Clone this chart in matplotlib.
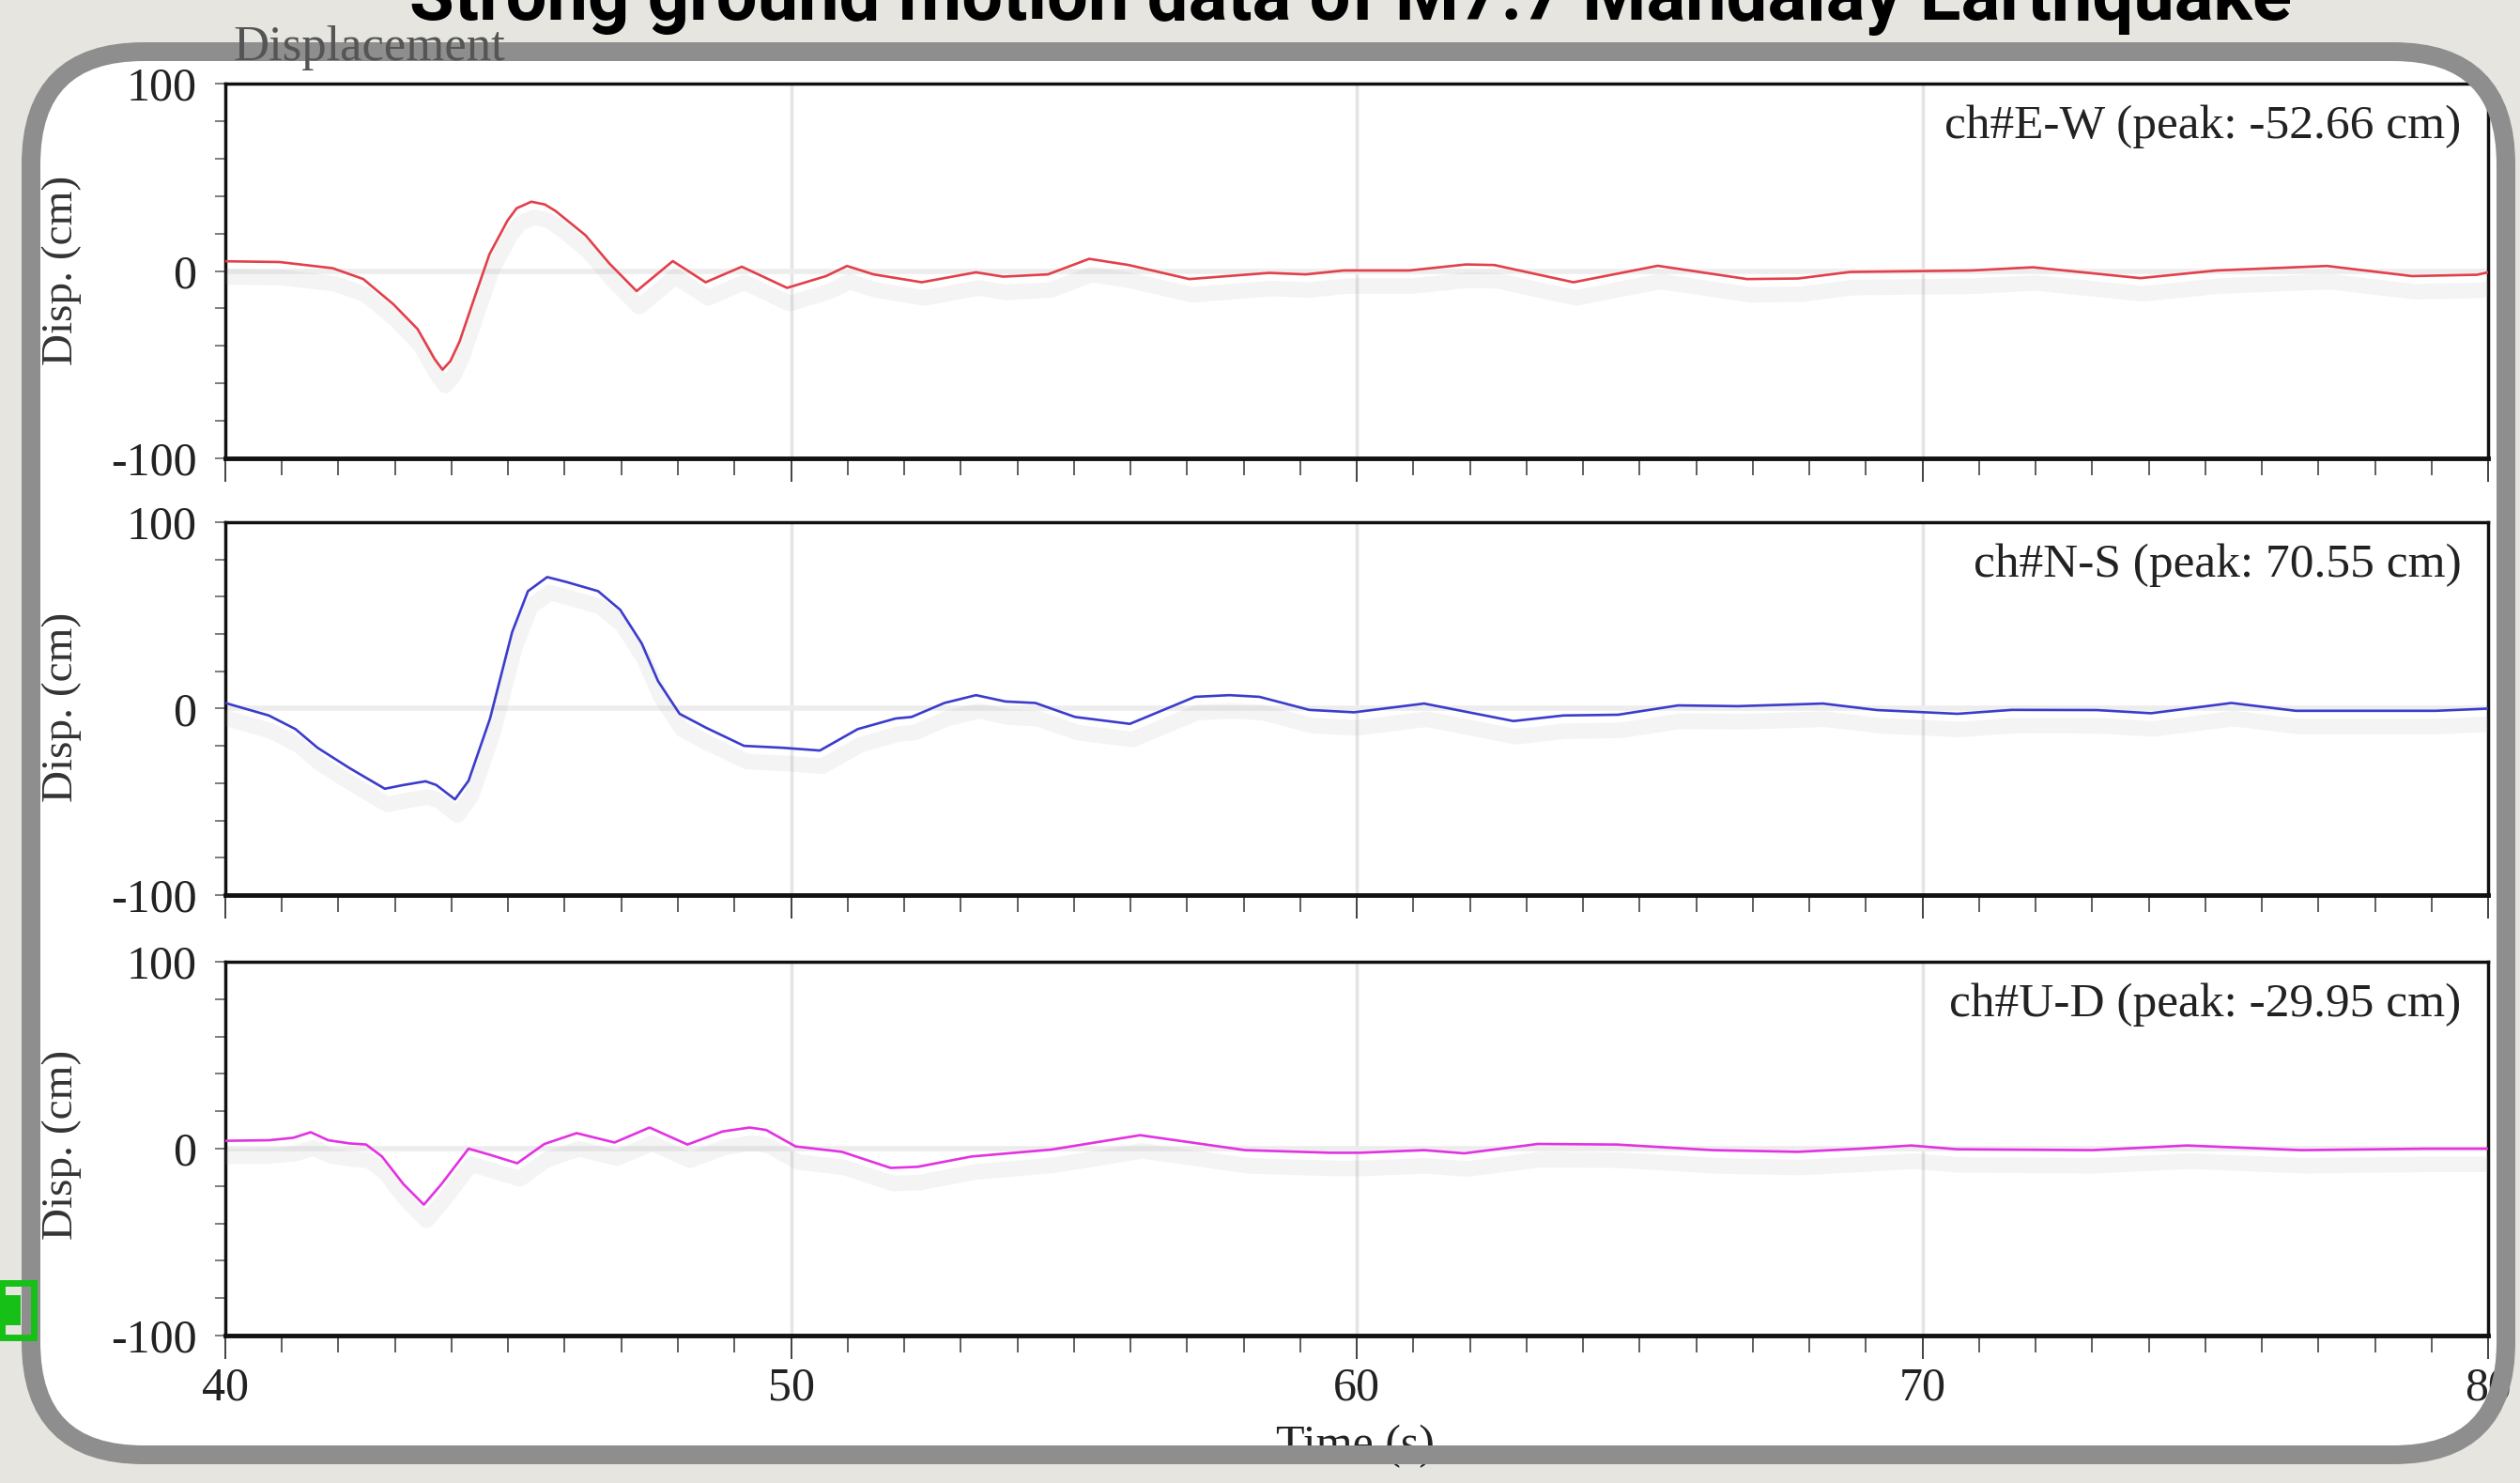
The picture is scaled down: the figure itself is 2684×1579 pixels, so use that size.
import numpy as np
import matplotlib
matplotlib.use("Agg")
import matplotlib.pyplot as plt
from matplotlib.patches import FancyBboxPatch, Rectangle
from matplotlib.transforms import IdentityTransform
import matplotlib.patheffects as pe

plt.rcParams['font.family'] = ['Liberation Serif', 'DejaVu Serif']

# ---------------- data ----------------
t_ew = [40.0, 40.96, 41.9, 42.44, 42.97, 43.4, 43.7, 43.84, 43.98, 44.14, 44.46, 44.67,
        44.99, 45.15, 45.41, 45.65, 45.84, 46.37, 46.79, 47.27, 47.91, 48.49, 49.13,
        49.93, 50.62, 50.99, 51.46, 52.31, 53.27, 53.75, 54.54, 55.27, 55.97, 57.04,
        58.45, 59.1, 59.77, 60.93, 61.93, 62.43, 63.83, 65.32, 66.9, 67.8, 68.72,
        70.87, 71.95, 73.85, 75.2, 77.15, 78.65, 79.8, 80.0]
v_ew = [5.2, 4.8, 1.5, -4.3, -17.7, -31.0, -47.0, -52.66, -48.0, -37.7, -9.3, 9.0,
        27.0, 33.5, 37.0, 35.5, 32.0, 19.0, 4.0, -10.7, 5.3, -6.0, 2.3,
        -9.0, -2.7, 2.7, -1.8, -6.0, -0.7, -3.0, -1.8, 6.5, 3.2, -4.3,
        -1.0, -1.8, 0.3, 0.3, 3.5, 3.2, -6.0, 2.8, -4.3, -4.0, -0.5,
        0.3, 2.0, -3.8, 0.3, 2.7, -2.7, -2.0, -0.7]

t_ns = [40.0, 40.77, 41.24, 41.63, 42.2, 42.82, 43.15, 43.54, 43.73, 44.06, 44.3,
        44.68, 45.07, 45.35, 45.69, 46.02, 46.59, 46.98, 47.36, 47.65, 48.03, 48.5,
        49.17, 49.84, 50.51, 51.18, 51.85, 52.13, 52.71, 53.27, 53.79, 54.32, 55.02,
        55.99, 57.14, 57.75, 58.28, 59.16, 59.95, 61.19, 62.77, 63.65, 64.62, 65.68,
        66.74, 68.24, 69.2, 70.62, 71.58, 73.08, 74.04, 75.46, 76.6, 79.07, 80.0]
v_ns = [3.0, -3.7, -11.0, -21.0, -32.0, -43.0, -41.0, -39.0, -41.0, -48.7, -38.7,
        -5.3, 41.0, 63.0, 70.55, 68.0, 63.0, 53.0, 35.0, 14.7, -2.8, -10.3,
        -20.0, -21.0, -22.5, -11.0, -5.3, -4.5, 3.0, 7.2, 3.8, 3.0, -4.5,
        -8.2, 6.3, 7.2, 6.3, -0.7, -2.0, 2.7, -6.7, -3.7, -3.3, 1.7,
        1.3, 2.7, -0.8, -2.8, -0.7, -0.8, -2.5, 3.0, -1.2, -1.2, 0.0]

t_ud = [40.0, 40.77, 41.2, 41.51, 41.82, 42.2, 42.49, 42.77, 43.15, 43.51, 43.82,
        44.3, 44.68, 45.16, 45.64, 46.21, 46.88, 47.5, 48.17, 48.79, 49.27, 49.56,
        50.08, 50.9, 51.76, 52.24, 53.19, 54.6, 56.17, 58.03, 59.54, 60.05, 61.19,
        61.9, 63.2, 64.6, 66.3, 67.8, 68.9, 69.8, 70.6, 73.0, 74.68, 76.7, 78.9, 80.0]
v_ud = [4.2, 4.5, 5.8, 8.8, 4.5, 2.8, 2.2, -4.2, -19.0, -29.95, -19.0,
        0.0, -3.3, -7.8, 2.5, 8.3, 3.3, 11.3, 2.2, 9.2, 11.3, 10.0,
        1.2, -1.7, -10.3, -9.7, -4.2, -0.5, 7.2, -0.8, -2.2, -2.2, -0.8,
        -2.5, 2.5, 2.2, -0.8, -1.7, 0.0, 1.7, -0.3, -0.8, 1.7, -0.8, 0.0, 0.0]

channel_labels = ['ch#E-W (peak: -52.66 cm)', 'ch#N-S (peak: 70.55 cm)', 'ch#U-D (peak: -29.95 cm)']
series_t = [t_ew, t_ns, t_ud]
series_v = [v_ew, v_ns, v_ud]
colors = ['#e2404a', '#3c3ccc', '#e232e2']
x_major = [40, 50, 60, 70, 80]
y_major = [-100, 0, 100]
y_major_labels = ['-100', '0', '100']
title = 'Strong ground motion data of M7.7 Mandalay Earthquake'

# ---------------- figure ----------------
W, H = 2684, 1579
fig = plt.figure(figsize=(W / 100, H / 100), dpi=100)
fig.patch.set_facecolor('#e6e5df')

# screenshot-like rounded frame
box = (33, 30, 2636, 1494)
fill = FancyBboxPatch(box[:2], box[2], box[3], boxstyle='round,pad=0,rounding_size=120',
                      transform=IdentityTransform(), facecolor='white', edgecolor='none', zorder=-5)
fig.add_artist(fill)
edge = FancyBboxPatch(box[:2], box[2], box[3], boxstyle='round,pad=0,rounding_size=120',
                      transform=IdentityTransform(), facecolor='none', edgecolor='#8e8e8e',
                      linewidth=20 * 0.72, zorder=10)
fig.add_artist(edge)

# green QR fragment at lower-left
fig.add_artist(Rectangle((2, 155), 34, 58, transform=IdentityTransform(), facecolor='none',
                         edgecolor='#16c016', linewidth=5, zorder=12))
fig.add_artist(Rectangle((4, 168), 18, 32, transform=IdentityTransform(), facecolor='#16c016',
                         edgecolor='none', zorder=12))

axes_rects = [(0.0894, 0.6909, 0.898, 0.2527),
              (0.0894, 0.3965, 0.898, 0.2514),
              (0.0894, 0.0994, 0.898, 0.2521)]
ylabel_y = [0.8176, 0.523, 0.228]

shadow = [pe.SimpleLineShadow(offset=(2, -12), shadow_color='#999999', alpha=0.10, linewidth=12),
          pe.Normal()]

for i, rect in enumerate(axes_rects):
    ax = fig.add_axes(rect)
    ax.set_facecolor('white')
    ax.set_xlim(40, 80)
    ax.set_ylim(-100, 100)
    for xv in x_major[1:-1]:
        ax.axvline(xv, color='#e4e4e4', lw=2.5, zorder=1)
    ax.axhline(0, color='#ededed', lw=4, zorder=1)
    ax.plot(series_t[i], series_v[i], color=colors[i], lw=1.9, zorder=3, path_effects=shadow)
    ax.set_yticks(y_major)
    ax.set_yticklabels(y_major_labels)
    ax.set_yticks(np.arange(-100, 101, 20), minor=True)
    ax.set_xticks(x_major)
    ax.set_xticks(np.arange(40, 81, 1), minor=True)
    ax.tick_params(axis='y', which='both', direction='out', length=8, width=1.2,
                   color='#666666', pad=14, labelsize=36, labelcolor='#222222')
    ax.tick_params(axis='x', which='major', direction='out', length=18, width=1.3,
                   color='#333333', pad=6, labelsize=36, labelcolor='#222222')
    ax.tick_params(axis='x', which='minor', direction='out', length=13, width=1.2, color='#444444')
    if i < 2:
        ax.tick_params(axis='x', which='both', labelbottom=False)
    ax.spines['bottom'].set_linewidth(3.5)
    for s in ['left', 'top', 'right']:
        ax.spines[s].set_linewidth(2.5)
    for s in ax.spines.values():
        s.set_color('#111111')
    ax.text(0.988, 0.885, channel_labels[i], transform=ax.transAxes, ha='right', va='center',
            fontsize=37, color='#222222', zorder=5)
    fig.text(0.0245, ylabel_y[i], 'Disp. (cm)', rotation=90, ha='center', va='center',
             fontsize=34, color='#333333', zorder=11)

fig.text(0.0924, 0.9677, 'Displacement', ha='left', va='center', fontsize=38,
         color='#555555', zorder=11)
fig.text(0.5377, 0.0247, 'Time (s)', ha='center', va='center', fontsize=36,
         color='#222222', zorder=5)
fig.text(0.536, 1 - 21 / H, title, ha='center', va='baseline', fontsize=56,
         fontweight='bold', family=['Roboto', 'DejaVu Sans'],
         color='black', zorder=12)

fig.savefig('out.png', dpi=100, facecolor=fig.get_facecolor())
